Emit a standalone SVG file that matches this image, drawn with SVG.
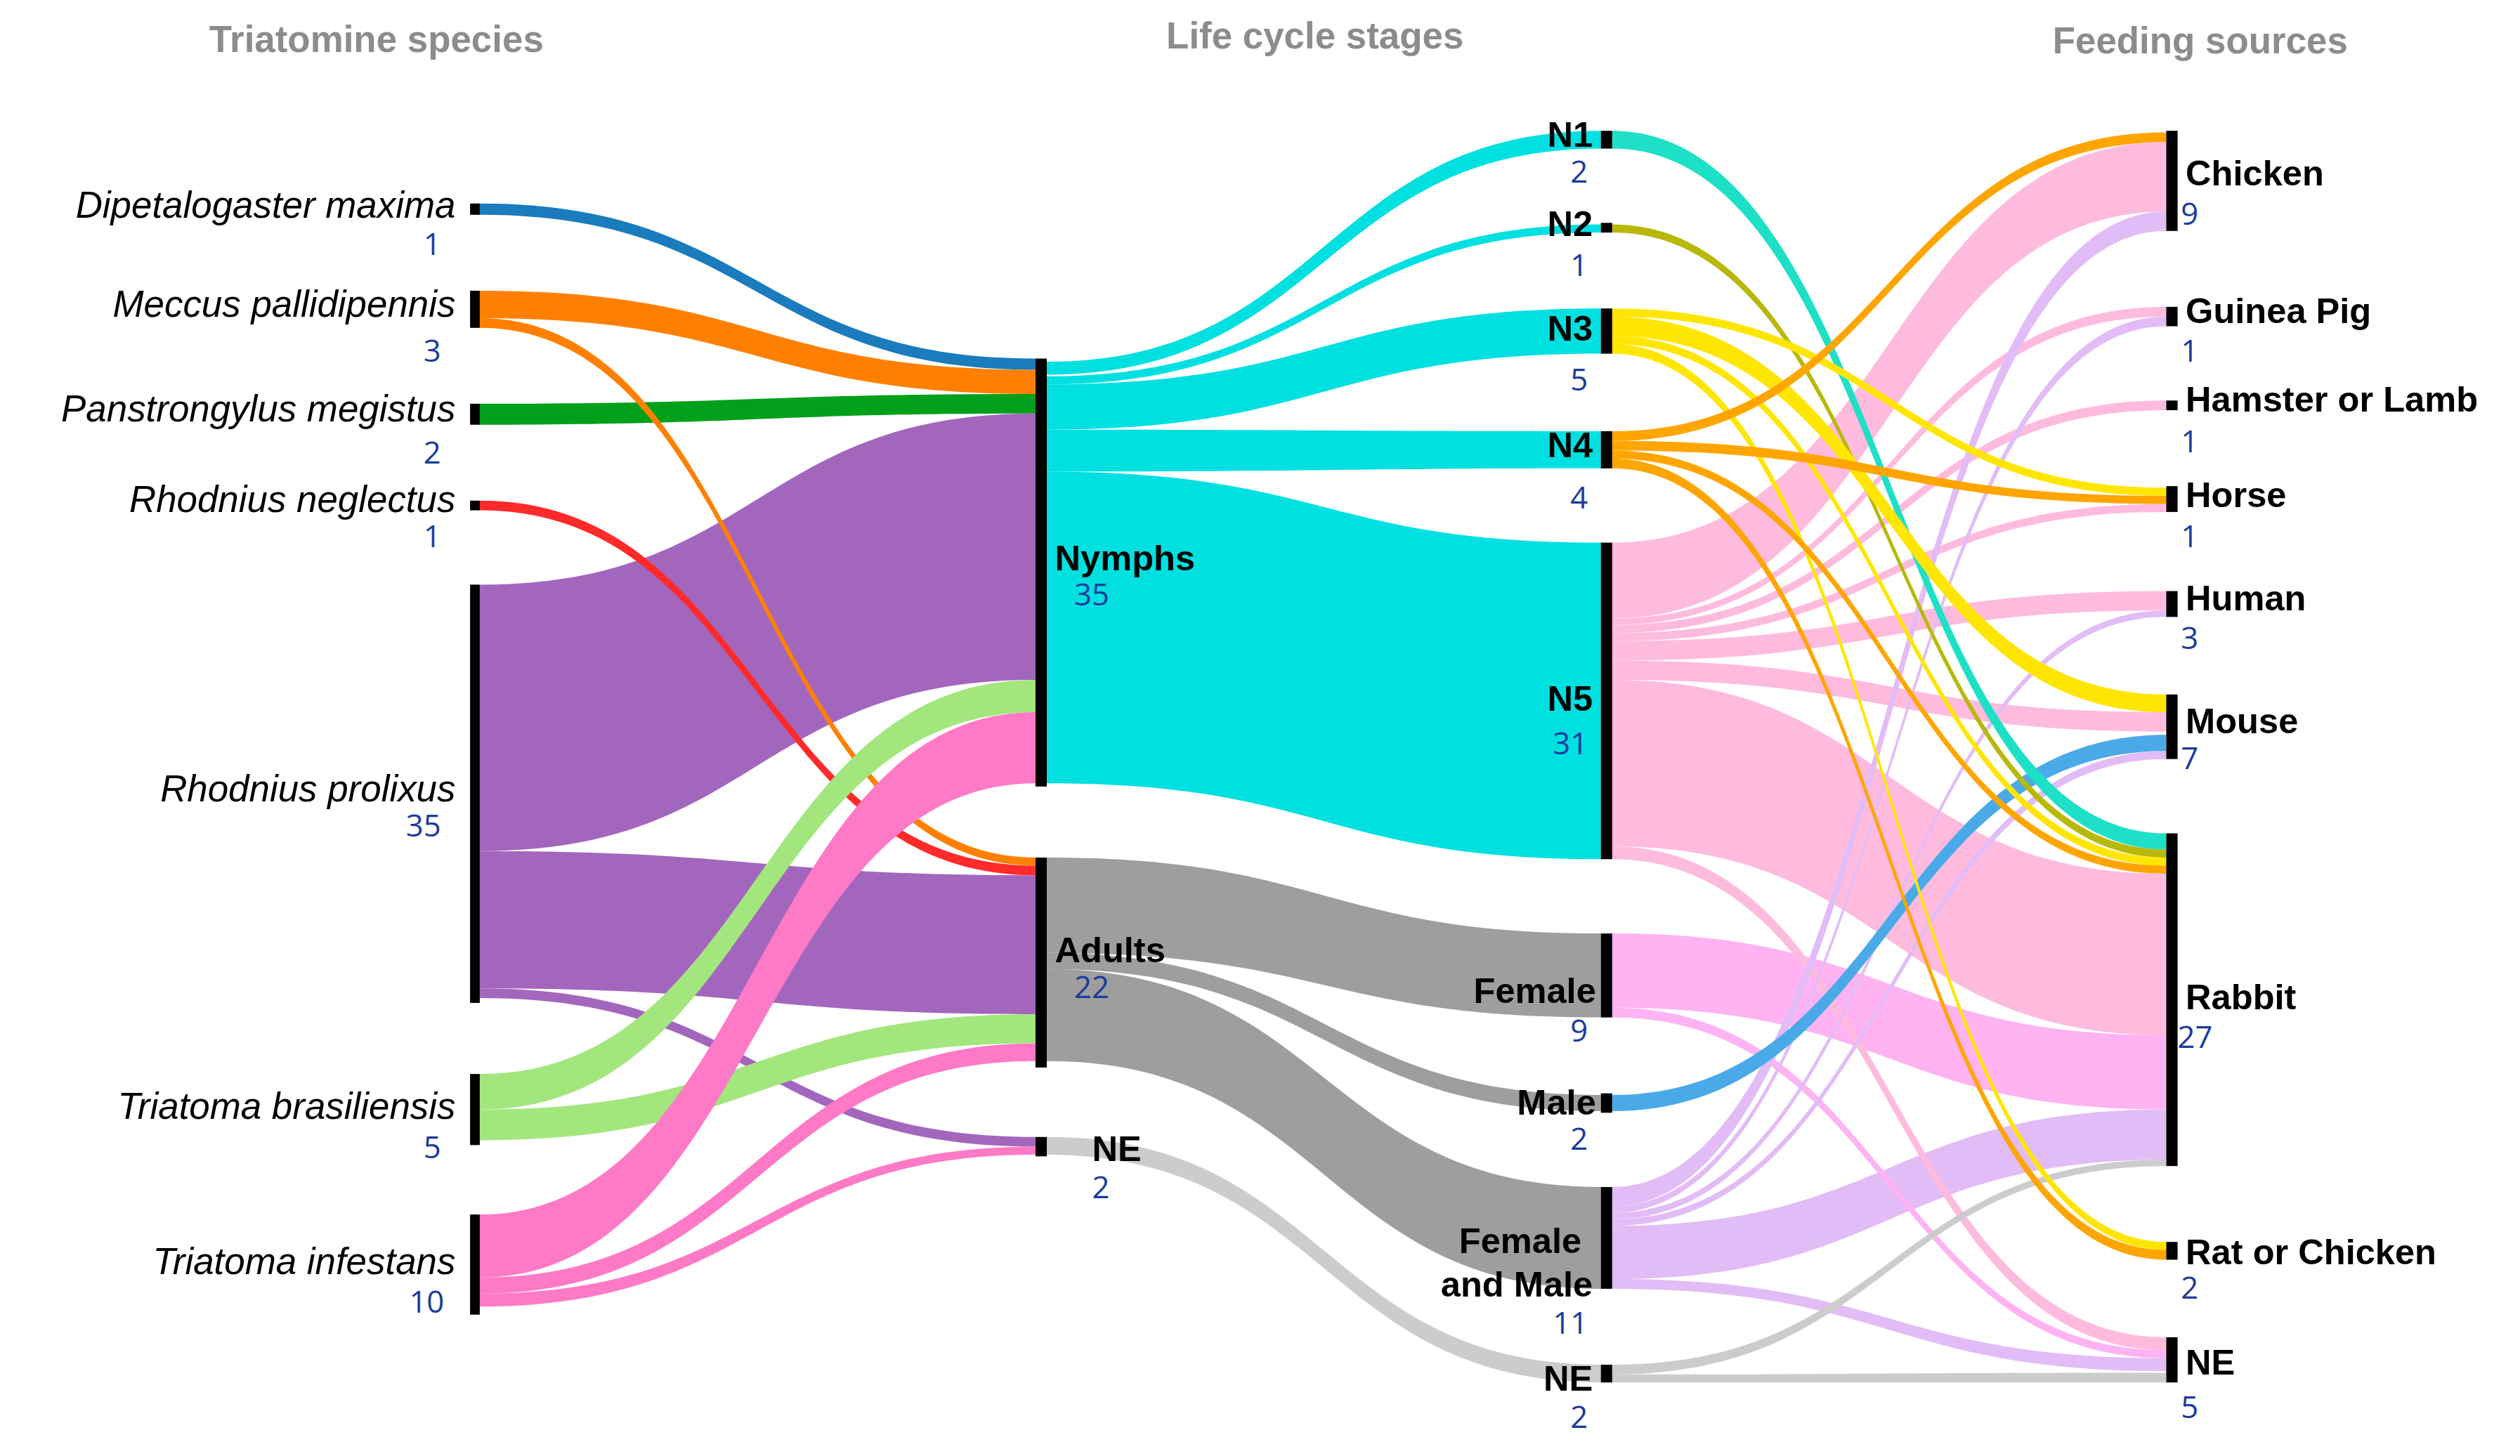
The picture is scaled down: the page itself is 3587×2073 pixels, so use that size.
<svg xmlns="http://www.w3.org/2000/svg" width="3587" height="2073" viewBox="0 0 3587 2073">
<style>
.h{font-family:"Liberation Sans",Arial,sans-serif;font-weight:bold;font-size:23px;fill:#8c8c8c;text-anchor:middle}
.sp{font-family:"Liberation Sans",Arial,sans-serif;font-style:italic;font-size:23px;fill:#000;text-anchor:end}
.lb{font-family:"Liberation Sans",Arial,sans-serif;font-weight:bold;font-size:22px;fill:#000}
.n{font-family:"Open Sans","DejaVu Sans",sans-serif;font-size:19px;fill:#1a3c9c}
.e{text-anchor:end}
.bar{fill:#000}
</style>
<rect width="3587" height="2073" fill="#fff"/>
<g transform="scale(2.2994)">
<g id="headers">
<text class="h" x="233" y="32">Triatomine species</text>
<text class="h" x="814" y="30">Life cycle stages</text>
<text class="h" x="1362" y="33">Feeding sources</text>
</g>
<g id="connectors">
<path fill="#1a7bbd" d="M297,126 C469,126 469,222 641,222 L641,229 C469,229 469,133 297,133 Z"/>
<path fill="#ff8000" d="M297,180 C469,180 469,229 641,229 L641,244 C469,244 469,197 297,197 Z"/>
<path fill="#00a01a" d="M297,250 C469,250 469,244 641,244 L641,256 C469,256 469,263 297,263 Z"/>
<path fill="#a366bd" d="M297,362 C469,362 469,256 641,256 L641,421 C469,421 469,527 297,527 Z"/>
<path fill="#a366bd" d="M297,527 C469,527 469,542 641,542 L641,628 C469,628 469,612 297,612 Z"/>
<path fill="#ff8000" d="M297,197 C469,197 469,531 641,531 L641,536 C469,536 469,203 297,203 Z"/>
<path fill="#ff2a2a" d="M297,310 C469,310 469,536 641,536 L641,542 C469,542 469,316 297,316 Z"/>
<path fill="#a366bd" d="M297,612 C469,612 469,704 641,704 L641,710 C469,710 469,618 297,618 Z"/>
<path fill="#a3e67e" d="M297,665 C469,665 469,421 641,421 L641,441 C469,441 469,687 297,687 Z"/>
<path fill="#a3e67e" d="M297,687 C469,687 469,628 641,628 L641,646 C469,646 469,706 297,706 Z"/>
<path fill="#ff7ac6" d="M297,752 C469,752 469,441 641,441 L641,485 C469,485 469,791 297,791 Z"/>
<path fill="#ff7ac6" d="M297,791 C469,791 469,646 641,646 L641,657 C469,657 469,801 297,801 Z"/>
<path fill="#ff7ac6" d="M297,801 C469,801 469,710 641,710 L641,715 C469,715 469,809 297,809 Z"/>

<path fill="#00e0e0" d="M648,224 C820,224 820,81 991,81 L991,92 C820,92 820,232 648,232 Z"/>
<path fill="#00e0e0" d="M648,233 C820,233 820,139 991,139 L991,144 C820,144 820,238 648,238 Z"/>
<path fill="#00e0e0" d="M648,238 C820,238 820,191 991,191 L991,219 C820,219 820,266 648,266 Z"/>
<path fill="#00e0e0" d="M648,266 C820,266 820,267 991,267 L991,290 C820,290 820,292 648,292 Z"/>
<path fill="#00e0e0" d="M648,292 C820,292 820,336 991,336 L991,532 C820,532 820,485 648,485 Z"/>
<path fill="#9e9e9e" d="M648,531 C820,531 820,578 991,578 L991,630 C820,630 820,590 648,590 Z"/>
<path fill="#9e9e9e" d="M648,590 C820,590 820,678 991,678 L991,688 C820,688 820,600 648,600 Z"/>
<path fill="#9e9e9e" d="M648,600 C820,600 820,735 991,735 L991,798 C820,798 820,657 648,657 Z"/>
<path fill="#cccccc" d="M648,704 C820,704 820,845 991,845 L991,856 C820,856 820,715 648,715 Z"/>

<path fill="#ffbbde" d="M998,336 C1170,336 1170,88 1341,88 L1341,131 C1170,131 1170,383 998,383 Z"/>
<path fill="#ffbbde" d="M998,421 C1170,421 1170,541 1341,541 L1341,641 C1170,641 1170,524 998,524 Z"/>
<path fill="#ffb3f3" d="M998,578 C1170,578 1170,641 1341,641 L1341,687 C1170,687 1170,624 998,624 Z"/>
<path fill="#e2bcf6" d="M998,759 C1170,759 1170,687 1341,687 L1341,718 C1170,718 1170,792 998,792 Z"/>
<path fill="#ffbbde" d="M998,383 C1170,383 1170,190 1341,190 L1341,196 C1170,196 1170,387 998,387 Z"/>
<path fill="#ffbbde" d="M998,387 C1170,387 1170,248 1341,248 L1341,254 C1170,254 1170,392 998,392 Z"/>
<path fill="#ffbbde" d="M998,392 C1170,392 1170,312 1341,312 L1341,317 C1170,317 1170,397 998,397 Z"/>
<path fill="#ffbbde" d="M998,397 C1170,397 1170,366 1341,366 L1341,378 C1170,378 1170,409 998,409 Z"/>
<path fill="#ffbbde" d="M998,409 C1170,409 1170,441 1341,441 L1341,453 C1170,453 1170,421 998,421 Z"/>
<path fill="#ffbbde" d="M998,524 C1170,524 1170,828 1341,828 L1341,836 C1170,836 1170,532 998,532 Z"/>
<path fill="#ffb3f3" d="M998,624 C1170,624 1170,836 1341,836 L1341,841 C1170,841 1170,630 998,630 Z"/>
<path fill="#e2bcf6" d="M998,735 C1170,735 1170,131 1341,131 L1341,143 C1170,143 1170,747 998,747 Z"/>
<path fill="#e2bcf6" d="M998,747 C1170,747 1170,196 1341,196 L1341,202 C1170,202 1170,751 998,751 Z"/>
<path fill="#e2bcf6" d="M998,751 C1170,751 1170,378 1341,378 L1341,382 C1170,382 1170,755 998,755 Z"/>
<path fill="#e2bcf6" d="M998,755 C1170,755 1170,465 1341,465 L1341,470 C1170,470 1170,759 998,759 Z"/>
<path fill="#e2bcf6" d="M998,792 C1170,792 1170,841 1341,841 L1341,849 C1170,849 1170,798 998,798 Z"/>
<path fill="#cccccc" d="M998,845 C1170,845 1170,718 1341,718 L1341,722 C1170,722 1170,851 998,851 Z"/>
<path fill="#cccccc" d="M998,851 C1170,851 1170,850 1341,850 L1341,856 C1170,856 1170,856 998,856 Z"/>
<path fill="#4aaae8" d="M998,678 C1170,678 1170,455 1341,455 L1341,465 C1170,465 1170,688 998,688 Z"/>
<path fill="#1ee0c6" d="M998,81 C1170,81 1170,516 1341,516 L1341,526 C1170,526 1170,92 998,92 Z"/>
<path fill="#b8b80a" d="M998,139 C1170,139 1170,526 1341,526 L1341,531 C1170,531 1170,144 998,144 Z"/>
<path fill="#ffe600" d="M998,191 C1170,191 1170,302 1341,302 L1341,307 C1170,307 1170,196 998,196 Z"/>
<path fill="#ffe600" d="M998,196 C1170,196 1170,430 1341,430 L1341,441 C1170,441 1170,208 998,208 Z"/>
<path fill="#ffe600" d="M998,208 C1170,208 1170,531 1341,531 L1341,536 C1170,536 1170,213 998,213 Z"/>
<path fill="#ffe600" d="M998,213 C1170,213 1170,769 1341,769 L1341,774 C1170,774 1170,219 998,219 Z"/>
<path fill="#ffa500" d="M998,267 C1170,267 1170,82 1341,82 L1341,88 C1170,88 1170,273 998,273 Z"/>
<path fill="#ffa500" d="M998,273 C1170,273 1170,307 1341,307 L1341,312 C1170,312 1170,279 998,279 Z"/>
<path fill="#ffa500" d="M998,279 C1170,279 1170,536 1341,536 L1341,541 C1170,541 1170,284 998,284 Z"/>
<path fill="#ffa500" d="M998,284 C1170,284 1170,774 1341,774 L1341,780 C1170,780 1170,290 998,290 Z"/>
</g>

<g id="n-dipetalogaster"><rect class="bar" x="291" y="126" width="6" height="7"/><text class="sp" x="282" y="135">Dipetalogaster maxima</text><text class="n e" x="273" y="158">1</text></g>
<g id="n-meccus"><rect class="bar" x="291" y="180" width="6" height="23"/><text class="sp" x="282" y="196">Meccus pallidipennis</text><text class="n e" x="273" y="224">3</text></g>
<g id="n-panstrongylus"><rect class="bar" x="291" y="250" width="6" height="13"/><text class="sp" x="282" y="261">Panstrongylus megistus</text><text class="n e" x="273" y="287">2</text></g>
<g id="n-rneglectus"><rect class="bar" x="291" y="310" width="6" height="6"/><text class="sp" x="282" y="317">Rhodnius neglectus</text><text class="n e" x="273" y="339">1</text></g>
<g id="n-rprolixus"><rect class="bar" x="291" y="362" width="6" height="259"/><text class="sp" x="282" y="496">Rhodnius prolixus</text><text class="n e" x="273" y="518">35</text></g>
<g id="n-tbrasiliensis"><rect class="bar" x="291" y="665" width="6" height="44"/><text class="sp" x="282" y="693">Triatoma brasiliensis</text><text class="n e" x="273" y="717">5</text></g>
<g id="n-tinfestans"><rect class="bar" x="291" y="752" width="6" height="62"/><text class="sp" x="282" y="789">Triatoma infestans</text><text class="n e" x="275" y="813">10</text></g>

<g id="n-nymphs"><rect class="bar" x="641" y="222" width="7" height="265"/><text class="lb" x="653" y="353">Nymphs</text><text class="n" x="665" y="375">35</text></g>
<g id="n-adults"><rect class="bar" x="641" y="531" width="7" height="130"/><text class="lb" x="653" y="596">Adults</text><text class="n" x="665" y="618">22</text></g>
<g id="n-ne2"><rect class="bar" x="641" y="704" width="7" height="12"/><text class="lb" x="676" y="719">NE</text><text class="n" x="676" y="742">2</text></g>

<g id="n-n1"><rect class="bar" x="991" y="81" width="7" height="11"/><text class="lb e" x="986" y="91">N1</text><text class="n e" x="983" y="113">2</text></g>
<g id="n-n2"><rect class="bar" x="991" y="138" width="7" height="6"/><text class="lb e" x="986" y="146">N2</text><text class="n e" x="983" y="171">1</text></g>
<g id="n-n3"><rect class="bar" x="991" y="191" width="7" height="28"/><text class="lb e" x="986" y="211">N3</text><text class="n e" x="983" y="242">5</text></g>
<g id="n-n4"><rect class="bar" x="991" y="267" width="7" height="23"/><text class="lb e" x="986" y="283">N4</text><text class="n e" x="983" y="315">4</text></g>
<g id="n-n5"><rect class="bar" x="991" y="336" width="7" height="196"/><text class="lb e" x="986" y="440">N5</text><text class="n e" x="983" y="467">31</text></g>
<g id="n-female"><rect class="bar" x="991" y="578" width="7" height="52"/><text class="lb e" x="988" y="621">Female</text><text class="n e" x="983" y="645">9</text></g>
<g id="n-male"><rect class="bar" x="991" y="677" width="7" height="12"/><text class="lb e" x="988" y="690">Male</text><text class="n e" x="983" y="712">2</text></g>
<g id="n-fm"><rect class="bar" x="991" y="735" width="7" height="63"/><text class="lb e" x="979" y="776">Female</text><text class="lb e" x="986" y="803">and Male</text><text class="n e" x="983" y="826">11</text></g>
<g id="n-ne3"><rect class="bar" x="991" y="845" width="7" height="11"/><text class="lb e" x="986" y="861">NE</text><text class="n e" x="983" y="884">2</text></g>

<g id="n-chicken"><rect class="bar" x="1341" y="81" width="7" height="62"/><text class="lb" x="1353" y="115">Chicken</text><text class="n" x="1350" y="139">9</text></g>
<g id="n-guinea"><rect class="bar" x="1341" y="190" width="7" height="12"/><text class="lb" x="1353" y="200">Guinea Pig</text><text class="n" x="1350" y="224">1</text></g>
<g id="n-hamster"><rect class="bar" x="1341" y="248" width="7" height="6"/><text class="lb" x="1353" y="255">Hamster or Lamb</text><text class="n" x="1350" y="280">1</text></g>
<g id="n-horse"><rect class="bar" x="1341" y="301" width="7" height="16"/><text class="lb" x="1353" y="314">Horse</text><text class="n" x="1350" y="339">1</text></g>
<g id="n-human"><rect class="bar" x="1341" y="366" width="7" height="16"/><text class="lb" x="1353" y="378">Human</text><text class="n" x="1350" y="402">3</text></g>
<g id="n-mouse"><rect class="bar" x="1341" y="430" width="7" height="40"/><text class="lb" x="1353" y="454">Mouse</text><text class="n" x="1350" y="476">7</text></g>
<g id="n-rabbit"><rect class="bar" x="1341" y="516" width="7" height="206"/><text class="lb" x="1353" y="625">Rabbit</text><text class="n" x="1348" y="649">27</text></g>
<g id="n-rat"><rect class="bar" x="1341" y="769" width="7" height="11"/><text class="lb" x="1353" y="783">Rat or Chicken</text><text class="n" x="1350" y="804">2</text></g>
<g id="n-ne4"><rect class="bar" x="1341" y="828" width="7" height="28"/><text class="lb" x="1353" y="851">NE</text><text class="n" x="1350" y="878">5</text></g>
</g>
</svg>
